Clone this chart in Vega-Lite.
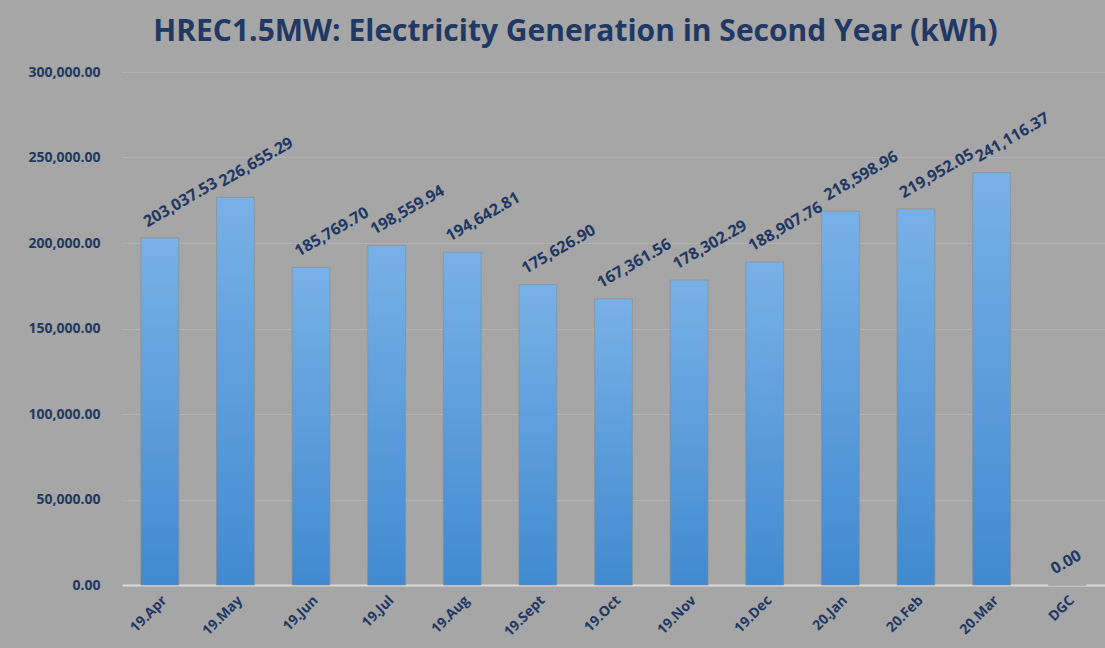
{
  "$schema": "https://vega.github.io/schema/vega-lite/v6.json",
  "autosize": {"type": "none"},
  "padding": {"left": 122, "top": 72, "right": 0, "bottom": 63},
  "width": 983,
  "height": 513,
  "background": "#a6a6a6",
  "title": {
    "text": "HREC1.5MW: Electricity Generation in Second Year (kWh)",
    "font": "Open Sans",
    "fontSize": 30,
    "fontWeight": "bold",
    "color": "#1f3864",
    "anchor": "middle",
    "frame": "group",
    "dx": -38,
    "offset": 18
  },
  "config": {
    "view": {"stroke": null},
    "font": "Open Sans"
  },
  "data": {
    "values": [
      {"month": "19.Apr", "kwh": 203037.53},
      {"month": "19.May", "kwh": 226655.29},
      {"month": "19.Jun", "kwh": 185769.70},
      {"month": "19.Jul", "kwh": 198559.94},
      {"month": "19.Aug", "kwh": 194642.81},
      {"month": "19.Sept", "kwh": 175626.90},
      {"month": "19.Oct", "kwh": 167361.56},
      {"month": "19.Nov", "kwh": 178302.29},
      {"month": "19.Dec", "kwh": 188907.76},
      {"month": "20.Jan", "kwh": 218598.96},
      {"month": "20.Feb", "kwh": 219952.05},
      {"month": "20.Mar", "kwh": 241116.37},
      {"month": "DGC", "kwh": 0}
    ]
  },
  "encoding": {
    "x": {
      "field": "month",
      "type": "nominal",
      "sort": null,
      "scale": {"paddingInner": 0.5, "paddingOuter": 0.25},
      "axis": {
        "title": null,
        "labelAngle": -45,
        "labelAlign": "right",
        "labelBaseline": "top",
        "labelFont": "Open Sans",
        "labelFontSize": 14,
        "labelFontWeight": "bold",
        "labelColor": "#1f3864",
        "labelPadding": 8,
        "ticks": false,
        "domainColor": "#d9d9d9",
        "domainWidth": 2
      }
    }
  },
  "layer": [
    {
      "mark": {
        "type": "bar",
        "color": {
          "gradient": "linear",
          "x1": 0, "y1": 0, "x2": 0, "y2": 1,
          "stops": [
            {"offset": 0, "color": "#78b1e7"},
            {"offset": 1, "color": "#418ad0"}
          ]
        },
        "stroke": "#8a8a8a",
        "strokeWidth": 0.6
      },
      "encoding": {
        "y": {
          "field": "kwh",
          "type": "quantitative",
          "scale": {"domain": [0, 300000]},
          "axis": {
            "title": null,
            "values": [0, 50000, 100000, 150000, 200000, 250000, 300000],
            "format": ",.2f",
            "labelFont": "Open Sans",
            "labelFontSize": 14,
            "labelFontWeight": "bold",
            "labelColor": "#1f3864",
            "labelPadding": 22,
            "ticks": false,
            "domain": false,
            "gridColor": "#b2b2b2",
            "gridWidth": 1
          }
        }
      }
    },
    {
      "mark": {
        "type": "text",
        "angle": -30,
        "align": "left",
        "baseline": "alphabetic",
        "dy": -12,
        "font": "Open Sans",
        "fontSize": 16,
        "fontWeight": "bold",
        "color": "#1f3864"
      },
      "encoding": {
        "x": {"field": "month", "type": "nominal", "sort": null, "bandPosition": 0.33},
        "y": {"field": "kwh", "type": "quantitative"},
        "text": {"field": "kwh", "type": "quantitative", "format": ",.2f"}
      }
    }
  ]
}
